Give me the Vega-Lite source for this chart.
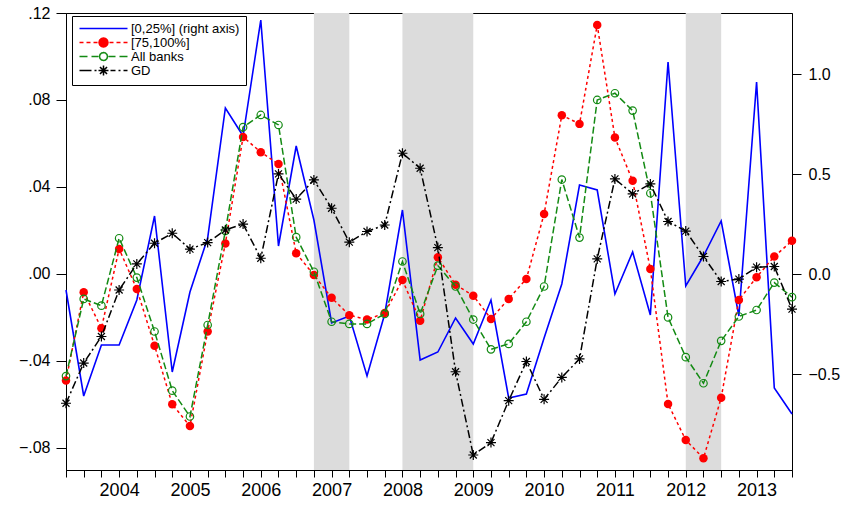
{
  "$schema": "https://vega.github.io/schema/vega-lite/v6.json",
  "width": 726,
  "height": 457,
  "autosize": {"type": "none"},
  "padding": {"left": 66, "top": 13, "right": 56, "bottom": 36},
  "background": "white",
  "config": {
    "view": {"stroke": "black", "strokeWidth": 1},
    "axis": {"grid": false, "domainColor": "black", "tickColor": "black", "labelColor": "black", "labelFont": "Liberation Sans", "title": null, "domainWidth": 1, "tickWidth": 1}
  },
  "datasets": {
    "d": [
      {"t": 2003.25, "q1": -0.08, "q4": -0.049, "all": -0.047, "gd": -0.0595},
      {"t": 2003.5, "q1": -0.61, "q4": -0.0084, "all": -0.0115, "gd": -0.041},
      {"t": 2003.75, "q1": -0.355, "q4": -0.025, "all": -0.0146, "gd": -0.0288},
      {"t": 2004.0, "q1": -0.355, "q4": 0.0115, "all": 0.0164, "gd": -0.0074},
      {"t": 2004.25, "q1": -0.13, "q4": -0.007, "all": -0.0017, "gd": 0.0046},
      {"t": 2004.5, "q1": 0.29, "q4": -0.033, "all": -0.0265, "gd": 0.0141},
      {"t": 2004.75, "q1": -0.49, "q4": -0.06, "all": -0.0537, "gd": 0.0187},
      {"t": 2005.0, "q1": -0.09, "q4": -0.07, "all": -0.0656, "gd": 0.0114},
      {"t": 2005.25, "q1": 0.18, "q4": -0.0265, "all": -0.0235, "gd": 0.0144},
      {"t": 2005.5, "q1": 0.83, "q4": 0.014, "all": 0.0198, "gd": 0.0202},
      {"t": 2005.75, "q1": 0.69, "q4": 0.063, "all": 0.0675, "gd": 0.0229},
      {"t": 2006.0, "q1": 1.27, "q4": 0.056, "all": 0.0731, "gd": 0.0072},
      {"t": 2006.25, "q1": 0.14, "q4": 0.0505, "all": 0.0685, "gd": 0.046},
      {"t": 2006.5, "q1": 0.64, "q4": 0.0095, "all": 0.0169, "gd": 0.0344},
      {"t": 2006.75, "q1": 0.27, "q4": -0.0005, "all": 0.001, "gd": 0.0432},
      {"t": 2007.0, "q1": -0.245, "q4": -0.011, "all": -0.022, "gd": 0.0302},
      {"t": 2007.25, "q1": -0.21, "q4": -0.019, "all": -0.023, "gd": 0.0146},
      {"t": 2007.5, "q1": -0.51, "q4": -0.021, "all": -0.023, "gd": 0.0195},
      {"t": 2007.75, "q1": -0.2, "q4": -0.018, "all": -0.0184, "gd": 0.0225},
      {"t": 2008.0, "q1": 0.32, "q4": -0.0028, "all": 0.0057, "gd": 0.0555},
      {"t": 2008.25, "q1": -0.43, "q4": -0.0216, "all": -0.0184, "gd": 0.0486},
      {"t": 2008.5, "q1": -0.39, "q4": 0.0077, "all": 0.0038, "gd": 0.0121},
      {"t": 2008.75, "q1": -0.22, "q4": -0.005, "all": -0.0058, "gd": -0.045},
      {"t": 2009.0, "q1": -0.35, "q4": -0.01, "all": -0.021, "gd": -0.0833},
      {"t": 2009.25, "q1": -0.13, "q4": -0.0207, "all": -0.0347, "gd": -0.0776},
      {"t": 2009.5, "q1": -0.62, "q4": -0.0115, "all": -0.0322, "gd": -0.0583},
      {"t": 2009.75, "q1": -0.6, "q4": -0.0023, "all": -0.022, "gd": -0.0403},
      {"t": 2010.0, "q1": -0.32, "q4": 0.0276, "all": -0.0058, "gd": -0.0577},
      {"t": 2010.25, "q1": -0.05, "q4": 0.073, "all": 0.0434, "gd": -0.0476},
      {"t": 2010.5, "q1": 0.445, "q4": 0.069, "all": 0.0167, "gd": -0.0391},
      {"t": 2010.75, "q1": 0.42, "q4": 0.1145, "all": 0.08, "gd": 0.0069},
      {"t": 2011.0, "q1": -0.1, "q4": 0.0627, "all": 0.0831, "gd": 0.0437},
      {"t": 2011.25, "q1": 0.11, "q4": 0.0428, "all": 0.0751, "gd": 0.0368},
      {"t": 2011.5, "q1": -0.205, "q4": 0.0022, "all": 0.0371, "gd": 0.0414},
      {"t": 2011.75, "q1": 1.06, "q4": -0.0598, "all": -0.02, "gd": 0.0241},
      {"t": 2012.0, "q1": -0.06, "q4": -0.0764, "all": -0.0383, "gd": 0.0197},
      {"t": 2012.25, "q1": 0.09, "q4": -0.0848, "all": -0.0503, "gd": 0.008},
      {"t": 2012.5, "q1": 0.265, "q4": -0.057, "all": -0.0308, "gd": -0.0035},
      {"t": 2012.75, "q1": -0.21, "q4": -0.012, "all": -0.0196, "gd": -0.0024},
      {"t": 2013.0, "q1": 0.96, "q4": -0.0015, "all": -0.0166, "gd": 0.0031},
      {"t": 2013.25, "q1": -0.57, "q4": 0.008, "all": -0.004, "gd": 0.0034},
      {"t": 2013.5, "q1": -0.7, "q4": 0.0152, "all": -0.0107, "gd": -0.0162}
    ],
    "rec": [
      {"s": 2006.75, "e": 2007.25},
      {"s": 2008.0, "e": 2009.0},
      {"s": 2012.0, "e": 2012.5}
    ]
  },
  "data": {"name": "d"},
  "encoding": {
    "x": {
      "field": "t",
      "type": "quantitative",
      "scale": {"domain": [2003.25, 2013.5], "nice": false, "zero": false},
      "axis": {
        "values": [2003.25, 2003.5, 2003.75, 2004, 2004.25, 2004.5, 2004.75, 2005, 2005.25, 2005.5, 2005.75, 2006, 2006.25, 2006.5, 2006.75, 2007, 2007.25, 2007.5, 2007.75, 2008, 2008.25, 2008.5, 2008.75, 2009, 2009.25, 2009.5, 2009.75, 2010, 2010.25, 2010.5, 2010.75, 2011, 2011.25, 2011.5, 2011.75, 2012, 2012.25, 2012.5, 2012.75, 2013, 2013.25, 2013.5],
        "labelExpr": "datum.value % 1 === 0 ? format(datum.value, 'd') : ''",
        "tickSize": 7,
        "labelPadding": 4,
        "labelFontSize": 18,
        "labelOverlap": false,
        "labelFlush": false
      }
    }
  },
  "layer": [
    {
      "data": {"name": "rec"},
      "mark": {"type": "rect", "color": "#dcdcdc"},
      "encoding": {
        "x": {"field": "s", "type": "quantitative"},
        "x2": {"field": "e"}
      }
    },
    {
      "transform": [{"fold": ["q1"], "as": ["series", "v"]}],
      "mark": {"type": "line", "strokeWidth": 1.6},
      "encoding": {
        "y": {
          "field": "v",
          "type": "quantitative",
          "scale": {"domain": [-0.98, 1.305], "nice": false, "zero": false},
          "axis": {"orient": "right", "values": [-0.5, 0, 0.5, 1], "format": ".1f", "tickSize": 9, "labelPadding": 7, "labelFontSize": 16}
        },
        "color": {
          "field": "series",
          "type": "nominal",
          "scale": {"domain": ["q1", "q4", "all", "gd"], "range": ["#0000ff", "#ff0000", "#138a13", "#000000"]},
          "legend": {
            "orient": "none",
            "legendX": 6,
            "legendY": 3,
            "title": null,
            "strokeColor": "black",
            "fillColor": "white",
            "padding": 6,
            "symbolSize": 36,
            "symbolStrokeWidth": 1.5,
            "symbolType": "M-8,0L8,0",
            "symbolOffset": 19,
            "labelFont": "Liberation Sans",
            "labelFontSize": 13,
            "labelColor": "black",
            "labelAlign": "left",
            "labelOffset": 21,
            "rowPadding": -5,
            "labelExpr": "datum.label === 'q1' ? '[0,25%] (right axis)' : datum.label === 'q4' ? '[75,100%]' : datum.label === 'all' ? 'All banks' : 'GD'",
            "encode": {
              "symbols": {
                "update": {
                  "shape": {"signal": "datum.value === 'q1' ? 'M-8,0L8,0' : datum.value === 'q4' ? 'M-8,0L-6.667,0M-5.667,0L-4.333,0M-3.333,0L-2,0M2,0L3.333,0M4.333,0L5.667,0M6.667,0L8,0M1.5,0L1.299,0.75L0.75,1.299L0,1.5L-0.75,1.299L-1.299,0.75L-1.5,0L-1.299,-0.75L-0.75,-1.299L0,-1.5L0.75,-1.299L1.299,-0.75Z' : datum.value === 'all' ? 'M-8,0L-5.333,0M-4,0L-1.667,0M1.667,0L4,0M5.333,0L8,0M1.333,0L1.155,0.667L0.667,1.155L0,1.333L-0.667,1.155L-1.155,0.667L-1.333,0L-1.155,-0.667L-0.667,-1.155L0,-1.333L0.667,-1.155L1.155,-0.667Z' : 'M-8,0L-4,0M-3,0L-2.333,0M-1.667,0L1.667,0M0,-1.667L0,1.667M-1.18,-1.18L1.18,1.18M-1.18,1.18L1.18,-1.18M2.333,0L4,0M5,0L5.667,0M6.667,0L8,0'"},
                  "fill": {"signal": "datum.value === 'q4' ? '#ff0000' : datum.value === 'all' ? 'white' : 'transparent'"},
                  "strokeDash": {"value": [1, 0]}
                }
              }
            }
          }
        }
      }
    },
    {
      "encoding": {
        "y": {
          "field": "v",
          "type": "quantitative",
          "scale": {"domain": [-0.0902, 0.12], "nice": false, "zero": false},
          "axis": {"orient": "left", "values": [-0.08, -0.04, 0, 0.04, 0.08, 0.12], "labelExpr": "replace(format(datum.value, '.2f'), '0.', '.')", "tickSize": 10, "labelPadding": 6, "labelFontSize": 16}
        }
      },
      "layer": [
        {
          "data": {"values": [{}]},
          "mark": {"type": "rule", "color": "black", "strokeWidth": 1},
          "encoding": {
            "x": {"datum": 2003.25, "type": "quantitative"},
            "x2": {"datum": 2013.5},
            "y": {"datum": 0, "type": "quantitative"}
          }
        },
        {
          "transform": [{"fold": ["q4"], "as": ["series", "v"]}],
          "mark": {"type": "line", "strokeWidth": 1.5, "strokeDash": [3, 3]},
          "encoding": {"color": {"field": "series", "type": "nominal"}}
        },
        {
          "transform": [{"fold": ["q4"], "as": ["series", "v"]}],
          "mark": {"type": "point", "shape": "circle", "filled": true, "color": "#ff0000", "size": 72, "opacity": 1}
        },
        {
          "transform": [{"fold": ["all"], "as": ["series", "v"]}],
          "mark": {"type": "line", "strokeWidth": 1.5, "strokeDash": [7, 3]},
          "encoding": {"color": {"field": "series", "type": "nominal"}}
        },
        {
          "transform": [{"fold": ["all"], "as": ["series", "v"]}],
          "mark": {"type": "point", "shape": "circle", "filled": false, "color": "#138a13", "size": 56, "strokeWidth": 1.2, "opacity": 1}
        },
        {
          "transform": [{"fold": ["gd"], "as": ["series", "v"]}],
          "mark": {"type": "line", "strokeWidth": 1.5, "strokeDash": [8, 3, 2, 3]},
          "encoding": {"color": {"field": "series", "type": "nominal"}}
        },
        {
          "transform": [{"fold": ["gd"], "as": ["series", "v"]}],
          "mark": {"type": "point", "shape": "M-1,0L1,0M0,-1L0,1M-0.7,-0.7L0.7,0.7M-0.7,0.7L0.7,-0.7", "filled": false, "color": "black", "size": 100, "strokeWidth": 1.2, "opacity": 1}
        }
      ]
    }
  ],
  "resolve": {"scale": {"y": "independent"}}
}
